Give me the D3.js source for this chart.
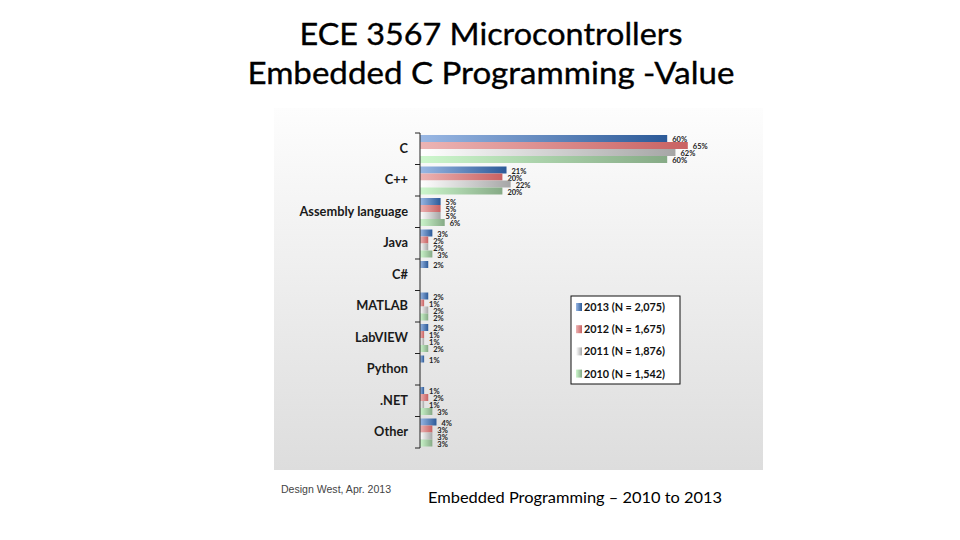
<!DOCTYPE html>
<html><head><meta charset="utf-8">
<script src="https://cdn.jsdelivr.net/npm/d3@7"></script>
<style>html,body{margin:0;padding:0;background:#fff;}svg{display:block;}</style>
</head><body>
<script>
const categories = ["C","C++","Assembly language","Java","C#","MATLAB","LabVIEW","Python",".NET","Other"];
const seriesNames = ["2013 (N = 2,075)","2012 (N = 1,675)","2011 (N = 1,876)","2010 (N = 1,542)"];
const values2013 = [60,21,5,3,2,2,2,1,1,4];
const values2012 = [65,20,5,2,null,1,1,null,2,3];
const values2011 = [62,22,5,2,null,2,1,null,1,3];
const values2010 = [60,20,6,3,null,2,2,null,3,3];
const titleLines = ["ECE 3567 Microcontrollers","Embedded C Programming -Value"];
const sourceNote = "Design West, Apr. 2013";
const caption = "Embedded Programming \u2013 2010 to 2013";

const seriesValues = [values2013, values2012, values2011, values2010];
const gradColors = [["#9ab8e4","#2c5a98"],["#ecb4b4","#c96262"],["#ffffff","#a6a6a6"],["#cdf7cd","#86aa86"]];

const W = 960, H = 540;
const svg = d3.select("body").append("svg").attr("width", W).attr("height", H);
const defs = svg.append("defs");

gradColors.forEach((c,i)=>{
  const g = defs.append("linearGradient").attr("id","g"+i).attr("x1","0").attr("x2","1").attr("y1","0").attr("y2","0");
  g.append("stop").attr("offset","0%").attr("stop-color",c[0]);
  g.append("stop").attr("offset","100%").attr("stop-color",c[1]);
});
const bg = defs.append("linearGradient").attr("id","bg").attr("x1","0").attr("x2","0").attr("y1","0").attr("y2","1");
bg.append("stop").attr("offset","0%").attr("stop-color","#fdfdfd");
bg.append("stop").attr("offset","100%").attr("stop-color","#dddddd");

// Title
const titleFont = "Lato, 'Open Sans', sans-serif";
svg.append("text").attr("x",491).attr("y",45).attr("text-anchor","middle")
  .attr("font-family",titleFont).attr("font-size",31).attr("fill","#000")
  .attr("stroke","#000").attr("stroke-width",0.35)
  .attr("textLength",383).attr("lengthAdjust","spacingAndGlyphs").text(titleLines[0]);
svg.append("text").attr("x",491).attr("y",84).attr("text-anchor","middle")
  .attr("font-family",titleFont).attr("font-size",31).attr("fill","#000")
  .attr("stroke","#000").attr("stroke-width",0.35)
  .attr("textLength",487).attr("lengthAdjust","spacingAndGlyphs").text(titleLines[1]);

// Panel
svg.append("rect").attr("x",274).attr("y",108).attr("width",489).attr("height",362).attr("fill","url(#bg)");

const x = d3.scaleLinear().domain([0,70]).range([420, 420+70*4.12]);
const y = d3.scaleBand().domain(categories).range([133,448]).padding(0);
const y1 = d3.scaleBand().domain(d3.range(4)).range([2, y.bandwidth()-1.5]).padding(0);

const lblFont = "Lato, 'Liberation Sans', sans-serif";

// Bars
seriesValues.forEach((vals,si)=>{
  const data = categories.map((c,i)=>({c, v: vals[i]})).filter(d=>d.v!=null);
  svg.append("g").selectAll("rect").data(data).join("rect")
    .attr("x", x(0)).attr("y", d=>y(d.c)+y1(si))
    .attr("width", d=>x(d.v)-x(0)).attr("height", y1.bandwidth())
    .attr("fill","url(#g"+si+")");
  svg.append("g").selectAll("text").data(data).join("text")
    .attr("x", d=>x(d.v)+5).attr("y", d=>y(d.c)+y1(si)+y1.bandwidth()/2+3.5)
    .attr("font-family",lblFont).attr("font-weight","bold").attr("font-size",7.5)
    .attr("fill","#222").text(d=>d.v+"%");
});

// Axis
const ax = svg.append("g").attr("transform",`translate(${x(0)},0)`)
  .call(d3.axisLeft(y).tickSize(0).tickPadding(12));
ax.select(".domain").attr("stroke","#222").attr("d",`M0,${y.range()[0]}V${y.range()[1]}`);
ax.selectAll(".tick text").attr("font-family",lblFont).attr("font-weight","bold")
  .attr("font-size",12.8).attr("fill","#1a1a1a");
const bounds = categories.map(c=>y(c)).concat([y.range()[1]]);
ax.selectAll("line.bnd").data(bounds).join("line").attr("class","bnd")
  .attr("x1",-5).attr("x2",0).attr("y1",d=>d).attr("y2",d=>d).attr("stroke","#222");

// Legend
const lg = svg.append("g").attr("transform","translate(571,296)");
lg.append("rect").attr("width",109).attr("height",88).attr("fill","#fff").attr("stroke","#111").attr("stroke-width",1);
seriesNames.forEach((n,i)=>{
  const yy = 15 + i*22.2;
  lg.append("rect").attr("x",5).attr("y",yy-8).attr("width",6).attr("height",8).attr("fill","url(#g"+i+")");
  lg.append("text").attr("x",13).attr("y",yy).attr("font-family",lblFont).attr("font-weight","bold")
    .attr("font-size",10.8).attr("fill","#111").text(n);
});

// Notes
svg.append("text").attr("x",281).attr("y",493).attr("font-family","'Liberation Sans', sans-serif")
  .attr("font-size",10).attr("fill","#444").attr("textLength",110).attr("lengthAdjust","spacingAndGlyphs").text(sourceNote);
svg.append("text").attr("x",428).attr("y",503).attr("font-family",titleFont)
  .attr("font-size",16).attr("fill","#000").attr("textLength",294).attr("lengthAdjust","spacingAndGlyphs").text(caption);
</script>
</body></html>
